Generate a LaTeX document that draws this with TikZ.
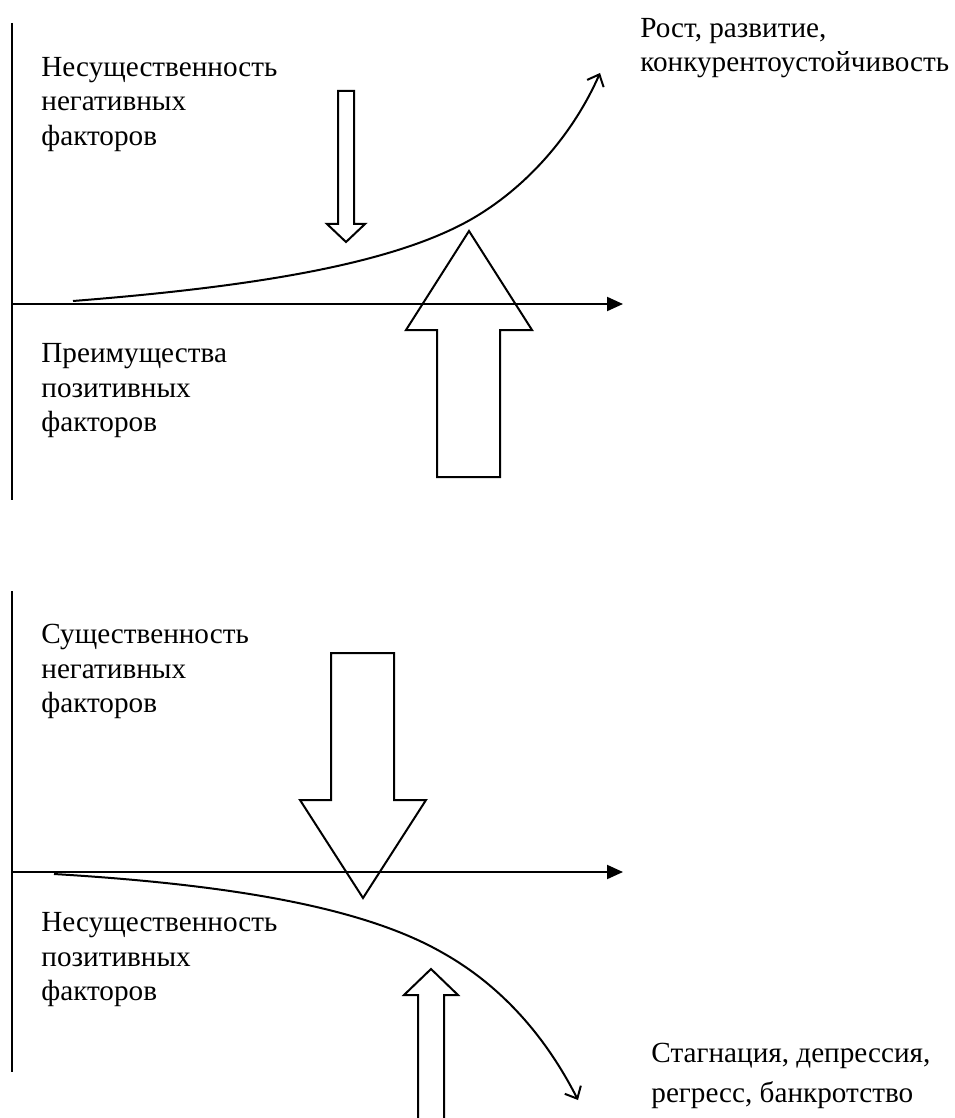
\documentclass[tikz,border=0pt]{standalone}
\usepackage{fontspec}
\setmainfont{Liberation Serif}
\usetikzlibrary{arrows.meta}

\tikzset{
	lbl/.style={anchor=west, align=left, inner sep=0pt, font=\fontsize{14.6}{17.25}\selectfont},
	axisline/.style={line width=1pt, -{Triangle[length=8pt,width=7pt]}},
	trend/.style={line width=1pt, -{Straight Barb[length=5pt,width=9pt]}},
	blk/.style={line width=1pt, line join=miter},
}

\begin{document}
\begin{tikzpicture}[x=0.5pt, y=-0.5pt]
	\useasboundingbox (0,0) rectangle (954,1118);
	
	% --- 1. TOP PANEL: GROWTH ---
	\coordinate (TO) at (12,304);
	\coordinate (Ttop) at (12,23);
	\coordinate (Tbot) at (12,500);
	\coordinate (Tend) at (623,304);
	\draw[line width=1pt] (Ttop) -- (Tbot);
	\draw[axisline] (TO) -- (Tend);
	
	\node[lbl] (negT) at (41,104.5) {Несущественность\\негативных\\факторов};
	\node[lbl] (posT) at (41,391) {Преимущества\\позитивных\\факторов};
	\node[lbl] (growth) at (640,48) {Рост, развитие,\\конкурентоустойчивость};
	
	% small arrow down, big arrow up
	\draw[blk] (338,91) -- (354,91) -- (354,224) -- (365,224) -- (346,242)
		-- (327,224) -- (338,224) -- cycle;
	\draw[blk] (437,477) -- (437,330) -- (406,330) -- (469,231) -- (532,330)
		-- (500,330) -- (500,477) -- cycle;
	
	\coordinate (gS) at (73,301);
	\coordinate (gM) at (470,220);
	\coordinate (gE) at (600,73);
	\draw[trend] (gS) .. controls (250,287) and (390,265) .. (gM)
		.. controls (530,186) and (575,130) .. (gE);
	
	% --- 2. BOTTOM PANEL: DECLINE ---
	\coordinate (BO) at (12,872);
	\coordinate (Btop) at (12,591);
	\coordinate (Bbot) at (12,1072);
	\coordinate (Bend) at (623,872);
	\draw[line width=1pt] (Btop) -- (Bbot);
	\draw[axisline] (BO) -- (Bend);
	
	\node[lbl] (negB) at (41,671.5) {Существенность\\негативных\\факторов};
	\node[lbl] (posB) at (41,960) {Несущественность\\позитивных\\факторов};
	\node[lbl] (decline) at (651,1076) {Стагнация, депрессия,\\[3pt]регресс, банкротство};
	
	% big arrow down, small arrow up
	\draw[blk] (331,653) -- (394,653) -- (394,800) -- (426,800) -- (363,898)
		-- (300,800) -- (331,800) -- cycle;
	\draw[blk] (418,1118) -- (418,995) -- (404,995) -- (431,969) -- (458,995)
		-- (444,995) -- (444,1118);
	
	\coordinate (dS) at (54,874);
	\coordinate (dM) at (443,953);
	\coordinate (dE) at (578,1100);
	\draw[trend] (dS) .. controls (220,884) and (360,905) .. (dM)
		.. controls (500,985) and (545,1035) .. (dE);
\end{tikzpicture}
\end{document}
